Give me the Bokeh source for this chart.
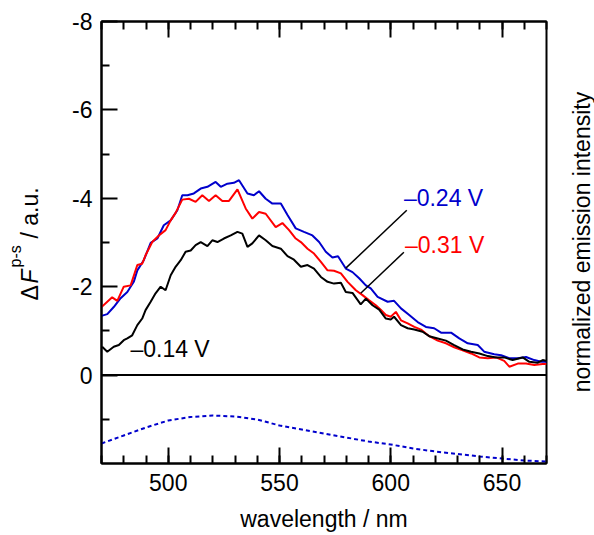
import math
from bokeh.plotting import figure
from bokeh.layouts import row
from bokeh.models import Range1d, LinearAxis, FixedTicker, Span, ColumnDataSource
from bokeh.core.properties import value
from bokeh.embed import file_html
from bokeh.resources import INLINE

FONT = "Liberation Sans"

# ---------------- data ----------------
blue_x = [470.0, 472.6, 475.5, 478.6, 481.6, 484.5, 486.1, 489.0, 492.1, 495.1, 498.0, 501.1,
          504.1, 506.3, 508.6, 511.5, 514.6, 517.6, 521.3, 523.6, 526.6, 529.5, 531.8, 535.6,
          538.5, 540.8, 543.8, 546.8, 550.6, 553.6, 557.3, 561.0, 564.8, 567.8, 570.8, 573.8,
          576.3, 579.8, 582.8, 585.8, 588.8, 591.0, 594.1, 598.6, 601.5, 604.6, 608.3, 612.1,
          615.8, 619.5, 622.6, 627.1, 630.8, 634.6, 639.1, 642.0, 646.5, 649.6, 653.3, 657.1,
          660.8, 664.5, 667.6, 670.0]
blue_y = [-1.34, -1.38, -1.54, -1.74, -1.88, -2.11, -2.37, -2.60, -2.99, -3.09, -3.39, -3.50,
          -3.73, -4.07, -4.07, -4.11, -4.22, -4.26, -4.37, -4.26, -4.33, -4.35, -4.41, -4.11,
          -4.07, -4.16, -3.99, -3.88, -3.88, -3.62, -3.32, -3.24, -3.16, -3.01, -2.79, -2.66,
          -2.69, -2.41, -2.33, -2.19, -2.03, -1.96, -1.77, -1.66, -1.68, -1.51, -1.36, -1.20,
          -1.09, -1.06, -0.96, -0.96, -0.83, -0.72, -0.68, -0.53, -0.47, -0.45, -0.38, -0.38,
          -0.41, -0.34, -0.30, -0.30]

red_x = [470.0, 472.6, 474.8, 477.1, 480.0, 483.1, 486.1, 488.3, 489.8, 492.8, 495.8, 498.8,
         501.1, 503.3, 506.3, 509.3, 512.3, 515.3, 518.3, 521.3, 524.3, 527.3, 531.1, 534.8,
         537.8, 540.8, 543.8, 548.3, 551.3, 554.3, 557.3, 559.6, 562.6, 565.5, 568.6, 571.6,
         574.5, 577.6, 580.6, 584.3, 587.3, 590.3, 593.3, 595.5, 597.8, 600.0, 602.3, 604.6,
         607.6, 610.6, 613.6, 617.3, 621.1, 624.8, 628.5, 632.3, 636.1, 639.8, 643.6, 647.3,
         651.0, 653.3, 657.1, 660.8, 664.5, 668.3, 670.0]
red_y = [-1.54, -1.66, -1.76, -1.68, -2.00, -2.03, -2.49, -2.52, -2.71, -3.01, -3.16, -3.28,
         -3.50, -3.67, -3.97, -3.99, -3.92, -4.07, -3.94, -4.07, -3.94, -3.94, -4.20, -3.77,
         -3.54, -3.69, -3.65, -3.35, -3.44, -3.28, -3.09, -3.01, -2.86, -2.75, -2.56, -2.37,
         -2.36, -2.30, -2.11, -1.92, -1.81, -1.69, -1.58, -1.48, -1.36, -1.32, -1.43, -1.24,
         -1.17, -1.09, -1.03, -0.88, -0.78, -0.72, -0.63, -0.56, -0.49, -0.40, -0.38, -0.40,
         -0.32, -0.19, -0.26, -0.26, -0.23, -0.25, -0.25]

black_x = [470.3, 472.6, 475.5, 477.8, 480.0, 481.6, 483.8, 486.1, 488.3, 489.8, 492.1, 494.3,
           496.6, 498.8, 501.1, 503.3, 505.6, 507.8, 510.1, 512.3, 514.6, 517.6, 519.8, 522.1,
           525.0, 528.1, 531.1, 533.3, 535.6, 537.8, 540.8, 543.8, 546.8, 550.6, 553.6, 556.5,
           559.6, 562.6, 565.5, 568.6, 571.6, 574.5, 577.6, 579.8, 582.8, 586.5, 588.8, 591.8,
           594.8, 597.8, 600.0, 601.5, 604.6, 607.6, 610.6, 614.3, 617.3, 621.1, 624.8, 628.5,
           632.3, 636.1, 639.8, 643.6, 647.3, 651.0, 654.8, 659.3, 662.3, 666.1, 668.3, 670.0]
black_y = [-0.64, -0.53, -0.64, -0.68, -0.79, -0.83, -0.90, -1.13, -1.28, -1.47, -1.66, -1.85,
           -2.00, -1.92, -2.26, -2.45, -2.60, -2.79, -2.82, -2.94, -3.01, -2.92, -3.05, -3.01,
           -3.09, -3.16, -3.24, -3.20, -2.90, -2.98, -3.16, -3.05, -2.92, -2.86, -2.69, -2.61,
           -2.45, -2.49, -2.41, -2.22, -2.11, -2.07, -2.09, -1.88, -1.86, -1.60, -1.73, -1.58,
           -1.48, -1.28, -1.26, -1.32, -1.13, -1.06, -1.03, -0.98, -0.88, -0.83, -0.78, -0.68,
           -0.58, -0.53, -0.49, -0.43, -0.40, -0.40, -0.34, -0.40, -0.30, -0.28, -0.34, -0.32]

# normalized emission intensity (right axis)
em_x = [470, 480, 490, 500, 510, 520, 530, 540, 550, 560, 570, 580, 590, 600, 610, 620,
        630, 640, 650, 660, 670]
em_y = [0.44, 0.60, 0.76, 0.90, 0.97, 1.00, 0.98, 0.92, 0.80, 0.72, 0.64, 0.56, 0.48, 0.42,
        0.34, 0.28, 0.23, 0.18, 0.14, 0.10, 0.08]

# series labels and leader lines
label_texts = ["\u20130.24 V", "\u20130.31 V", "\u20130.14 V"]
label_x = [605.9, 606.4, 483.0]
label_y = [-4.01, -2.95, -0.60]
label_colors = ["#0000cc", "#ff0000", "#000000"]

leader_x0 = [607.2, 605.9]
leader_y0 = [-3.73, -2.78]
leader_x1 = [579.8, 586.5]
leader_y1 = [-2.42, -1.85]

x_major = [500, 550, 600, 650]
x_minor = list(range(470, 671, 10))
y_major = [-8, -6, -4, -2, 0]
y_minor = [-7, -5, -3, -1, 1]
y_tick_labels = ["-8", "-6", "-4", "-2", "0"]

x_title = "wavelength / nm"
y_title_parts = ["\u0394", "F", "p-s", "/ a.u."]
right_title = "normalized emission intensity"

H = 535
LEFT_W = 60
RIGHT_W = 40
MAIN_W = 594 - LEFT_W - RIGHT_W
FRAME_TOP = 21
FRAME_BOTTOM = 463

# ---------------- main figure ----------------
p = figure(width=MAIN_W, height=H, output_backend="svg", toolbar_location=None,
           x_range=Range1d(470, 670), y_range=Range1d(2, -8),
           min_border_left=101 - LEFT_W, min_border_right=8, min_border_top=FRAME_TOP,
           min_border_bottom=H - FRAME_BOTTOM)
p.extra_y_ranges = {"em": Range1d(start=0.04, end=8.88)}
p.grid.visible = False
p.outline_line_color = "black"
p.outline_line_width = 2
p.background_fill_color = "white"
p.border_fill_color = "white"


def style_axis(ax):
    ax.axis_line_color = "black"
    ax.axis_line_width = 2
    ax.major_tick_in = 16
    ax.major_tick_out = 0
    ax.minor_tick_in = 8
    ax.minor_tick_out = 0
    ax.major_tick_line_width = 2
    ax.minor_tick_line_width = 2
    ax.major_tick_line_color = "black"
    ax.minor_tick_line_color = "black"
    ax.major_label_text_font = FONT
    ax.major_label_text_font_size = "23px"
    ax.major_label_text_color = "black"


xticker = FixedTicker(ticks=x_major, minor_ticks=x_minor)
yticker = FixedTicker(ticks=y_major, minor_ticks=y_minor)

xa = p.xaxis[0]
xa.ticker = xticker
style_axis(xa)
xa.major_label_standoff = 10
xa.axis_label = x_title
xa.axis_label_text_font = FONT
xa.axis_label_text_font_size = "23px"
xa.axis_label_text_font_style = "normal"
xa.axis_label_text_color = "black"
xa.axis_label_standoff = 12

ya = p.yaxis[0]
ya.ticker = yticker
style_axis(ya)
ya.major_label_standoff = 9
ya.major_label_overrides = {t: s for t, s in zip(y_major, y_tick_labels)}

top = LinearAxis(ticker=xticker)
style_axis(top)
top.major_label_overrides = {t: "" for t in x_major}
top.major_label_standoff = 0
p.add_layout(top, "above")

# zero line
p.add_layout(Span(location=0, dimension="width", line_color="black", line_width=2))

# spectra
p.line(blue_x, blue_y, line_color="#0000cc", line_width=2)
p.line(red_x, red_y, line_color="#ff0000", line_width=2)
p.line(black_x, black_y, line_color="#000000", line_width=2)

# emission (dotted, right axis scale)
p.line(em_x, em_y, y_range_name="em", line_color="#0000cc", line_width=2, line_dash="4 3")

# leader lines
p.segment(x0=leader_x0, y0=leader_y0, x1=leader_x1, y1=leader_y1,
          line_color="black", line_width=1.5)

# series labels
src = ColumnDataSource(dict(x=label_x, y=label_y, t=label_texts, c=label_colors))
p.text(x="x", y="y", text="t", text_color="c", source=src, text_font=value(FONT),
       text_font_size="23px", text_align="left", text_baseline="alphabetic")


def strip(width):
    # side strip whose frame is aligned with the main frame (page y = H - local y)
    f = figure(width=width, height=H, output_backend="svg", toolbar_location=None,
               x_range=Range1d(0, width), y_range=Range1d(H - FRAME_BOTTOM, H - FRAME_TOP),
               x_axis_location=None, y_axis_location=None,
               min_border=0, min_border_left=0, min_border_right=0,
               min_border_top=FRAME_TOP, min_border_bottom=H - FRAME_BOTTOM)
    f.grid.visible = False
    f.outline_line_color = None
    f.background_fill_color = "white"
    f.border_fill_color = "white"
    return f


ang = math.pi / 2

# ---------------- left strip: y title  ΔF^{p-s} / a.u. ----------------
lt = strip(LEFT_W)
lt.text(x=[29.5], y=[H - 300], text=[y_title_parts[0]], angle=ang, text_font=value(FONT),
        text_font_size="23px", text_align="left", text_baseline="alphabetic", text_color="black")
lt.text(x=[29.5], y=[H - 283], text=[y_title_parts[1]], angle=ang, text_font=value(FONT),
        text_font_style="italic", text_font_size="23px", text_align="left",
        text_baseline="alphabetic", text_color="black")
lt.text(x=[14.5], y=[H - 267], text=[y_title_parts[2]], angle=ang, text_font=value(FONT),
        text_font_size="16px", text_align="left", text_baseline="alphabetic", text_color="black")
lt.text(x=[29.5], y=[H - 238], text=[y_title_parts[3]], angle=ang, text_font=value(FONT),
        text_font_size="23px", text_align="left", text_baseline="alphabetic", text_color="black")

# ---------------- right strip: right-axis title ----------------
rt = strip(RIGHT_W)
rt.text(x=[27.0], y=[H - 241.5], text=[right_title], angle=ang, text_font=value(FONT),
        text_font_size="23px", text_align="center", text_baseline="alphabetic",
        text_color="black")

layout = row(lt, p, rt, spacing=0)

open("out.html", "w").write(file_html(layout, INLINE))
